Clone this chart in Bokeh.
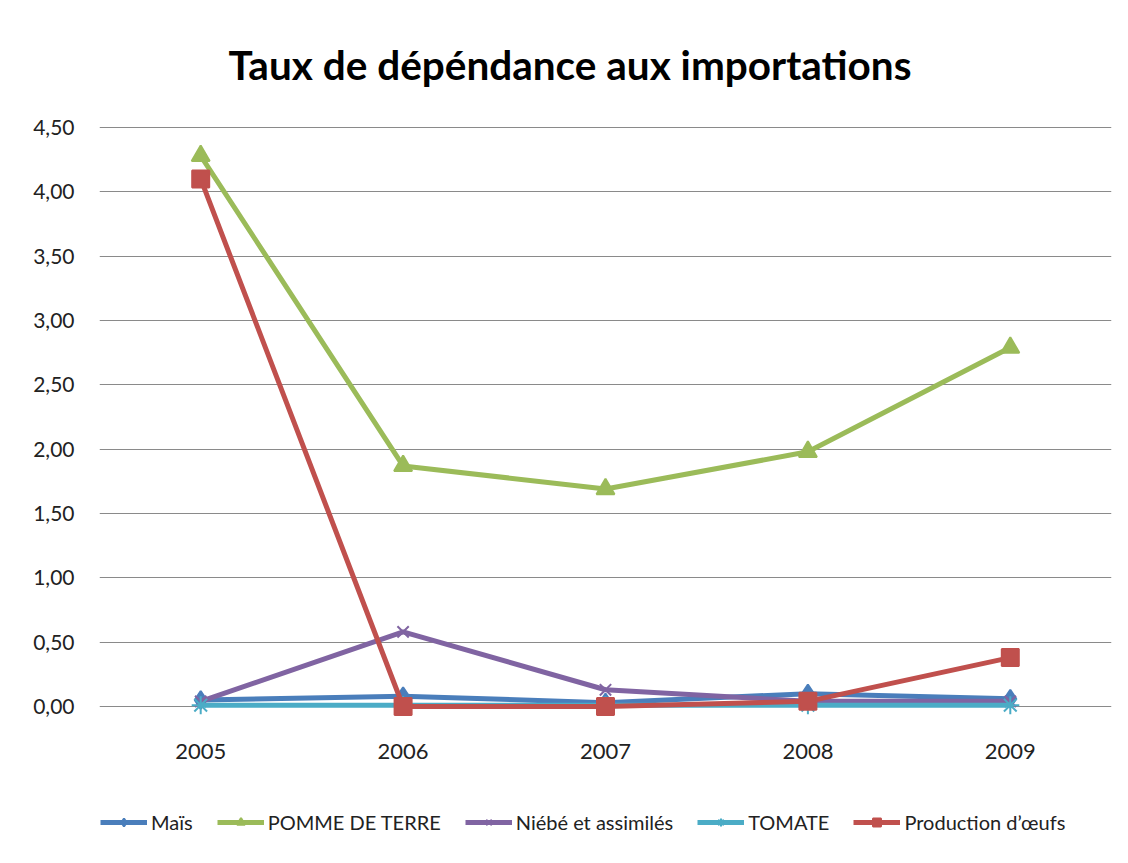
from bokeh.plotting import figure
from bokeh.embed import file_html
from bokeh.resources import INLINE
from bokeh.core.properties import value
from bokeh.models import (FactorRange, Range1d, FixedTicker, CustomJSTickFormatter, Legend)

years = ["2005", "2006", "2007", "2008", "2009"]
mais = [0.05, 0.08, 0.03, 0.10, 0.06]
pomme = [4.28, 1.87, 1.69, 1.98, 2.79]
niebe = [0.04, 0.58, 0.13, 0.04, 0.04]
tomate = [0.01, 0.01, 0.01, 0.01, 0.01]
oeufs = [4.10, 0.00, 0.00, 0.04, 0.38]
y_ticks = [0, 0.5, 1.0, 1.5, 2.0, 2.5, 3.0, 3.5, 4.0, 4.5]

FONT = "Lato"
Y_MAX = 4.5
PLOT_PX = 579.0      # pixels between 0 and 4.5
BELOW_PX = 141.0     # room under the zero line for year labels and legend
ABOVE_PX = 2.0       # small headroom so the top gridline is fully visible

p = figure(width=1112, height=847, output_backend="svg", toolbar_location=None,
           x_axis_location=None,
           x_range=FactorRange(*years, range_padding=0),
           y_range=Range1d(-Y_MAX * BELOW_PX / PLOT_PX, Y_MAX + Y_MAX * ABOVE_PX / PLOT_PX),
           min_border_left=99, min_border_right=1, min_border_top=125, min_border_bottom=0)
p.outline_line_color = None
p.background_fill_color = "white"
p.border_fill_color = "white"

p.title.text = "Taux de dépéndance aux importations"
p.title.text_font = FONT
p.title.text_font_style = "bold"
p.title.text_font_size = "40.5px"
p.title.align = "left"
p.title.offset = 129
p.title.standoff = 74
p.title.text_color = "black"

p.xgrid.grid_line_color = None
p.ygrid.grid_line_color = "#8a8a8a"
p.ygrid.grid_line_width = 1.2
p.yaxis.ticker = FixedTicker(ticks=y_ticks)
p.yaxis.formatter = CustomJSTickFormatter(code="return tick.toFixed(2).replace('.', ',');")
p.yaxis.axis_line_color = None
p.yaxis.major_tick_line_color = None
p.yaxis.minor_tick_line_color = None
p.yaxis.major_tick_out = 0
p.yaxis.major_tick_in = 0
p.yaxis.major_label_standoff = 25
p.yaxis.major_label_text_font = FONT
p.yaxis.major_label_text_font_size = "21px"
p.yaxis.major_label_text_color = "#222222"

# category labels under the zero line
p.text(x=years, y=0, text=years, y_offset=45, text_align="center", text_baseline="middle",
       text_font=value(FONT), text_font_size="22px", text_color="#222222")

series = [
    ("Maïs", mais, "#4a7ebb", "diamond", 18),
    ("POMME DE TERRE", pomme, "#9bbb59", "triangle", 18),
    ("Niébé et assimilés", niebe, "#8064a2", "x", 16),
    ("TOMATE", tomate, "#4bacc6", "asterisk", 18),
    ("Production d\u2019œufs", oeufs, "#c0504d", "square", 17),
]

items = []
for name, vals, col, mk, sz in series:
    r1 = p.line(years, vals, line_color=col, line_width=5)
    r2 = p.scatter(years, vals, marker=mk, size=sz, fill_color=col, line_color=col, line_width=2)
    items.append((name, [r1, r2]))

legend = Legend(items=items, orientation="horizontal", location=(1, 13),
                label_text_font=FONT, label_text_font_size="20px", label_text_color="#222222",
                glyph_width=47, glyph_height=20, label_standoff=4, spacing=24,
                padding=0, margin=0, border_line_color=None, background_fill_alpha=0)
p.add_layout(legend)

open("out.html", "w").write(file_html(p, INLINE))
